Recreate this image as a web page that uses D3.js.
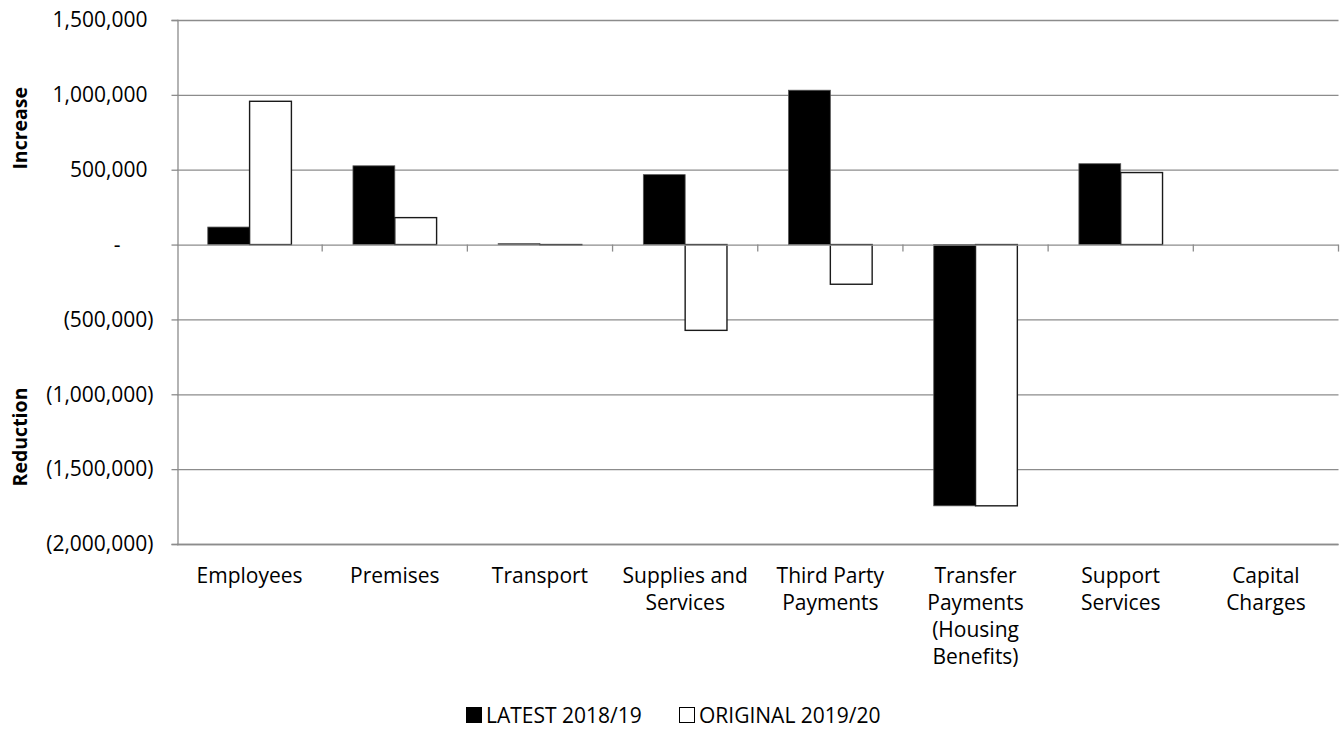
<!DOCTYPE html>
<html>
<head>
<meta charset="utf-8">
<script src="https://cdn.jsdelivr.net/npm/d3@7/dist/d3.min.js"></script>
<style>
  html, body { margin: 0; padding: 0; background: #fff; }
  svg { display: block; }
  text { font-family: "Open Sans", "Noto Sans", sans-serif; fill: #000; }
</style>
</head>
<body>
<svg id="chart" width="1344" height="731"></svg>
<script>
// ---- data ----
const categories = ["Employees", "Premises", "Transport", "Supplies and Services",
  "Third Party Payments", "Transfer Payments (Housing Benefits)", "Support Services", "Capital Charges"];
const categoryLines = [["Employees"], ["Premises"], ["Transport"], ["Supplies and", "Services"],
  ["Third Party", "Payments"], ["Transfer", "Payments", "(Housing", "Benefits)"], ["Support", "Services"], ["Capital", "Charges"]];
const seriesNames = ["LATEST 2018/19", "ORIGINAL 2019/20"];
const latest2018 = [117000, 526000, 6000, 467000, 1031000, -1745000, 540000, 0];
const original2019 = [957000, 180000, -2000, -573000, -265000, -1745000, 481000, 0];
const yTicks = [1500000, 1000000, 500000, 0, -500000, -1000000, -1500000, -2000000];
const axisTitles = ["Increase", "Reduction"];

// ---- layout ----
const svg = d3.select("#chart");
const plotLeft = 177, plotRight = 1338.5, plotTop = 20, plotBottom = 544;
const gridColor = "#8c8c8c";

const x0 = d3.scaleBand().domain(categories).range([plotLeft, plotRight])
  .paddingInner(0.424).paddingOuter(0.212);
const x1 = d3.scaleBand().domain(seriesNames).range([0, x0.bandwidth()]);
const y = d3.scaleLinear().domain([-2000000, 1500000]).range([plotBottom, plotTop]);

// gridlines
svg.append("g").selectAll("line").data(yTicks.filter(d => d !== 0)).join("line")
  .attr("x1", plotLeft).attr("x2", plotRight)
  .attr("y1", d => y(d) + 0.5).attr("y2", d => y(d) + 0.5)
  .attr("stroke", gridColor).attr("stroke-width", 1.3);

// y axis
const fmt = d3.format(",");
const yAxis = d3.axisLeft(y).tickValues(yTicks).tickSize(6).tickPadding(18)
  .tickFormat(d => d > 0 ? fmt(d) : d < 0 ? "(" + fmt(-d) + ")" : "-");
const yg = svg.append("g").attr("transform", `translate(${plotLeft + 0.5},0)`).call(yAxis);
yg.select(".domain").attr("stroke", gridColor).attr("stroke-width", 1.3);
yg.selectAll(".tick line").attr("stroke", gridColor).attr("stroke-width", 1.3);
yg.selectAll(".tick text")
  .style("font-family", '"Open Sans", sans-serif').style("font-size", "21px").attr("fill", "#000")
  .attr("dx", d => d > 0 ? -6 : d < 0 ? 0 : -33);

// bars
const groups = svg.append("g").selectAll("g").data(categories).join("g")
  .attr("transform", d => `translate(${x0(d)},0)`);
const fills = ["#000", "#fff"];
groups.selectAll("rect").data((d, i) => [latest2018[i], original2019[i]].map((v, k) => ({ v, k })))
  .join("rect")
  .attr("x", d => x1(seriesNames[d.k]))
  .attr("width", x1.bandwidth())
  .attr("y", d => y(Math.max(0, d.v)))
  .attr("height", d => Math.abs(y(d.v) - y(0)))
  .attr("fill", d => fills[d.k])
  .attr("stroke", d => d.k === 0 ? "#555" : "#1a1a1a")
  .attr("stroke-width", d => d.k === 0 ? 0.8 : 1.4);

// zero axis (category axis) with boundary ticks
const xg = svg.append("g");
xg.append("line").attr("x1", plotLeft).attr("x2", plotRight)
  .attr("y1", y(0) + 0.5).attr("y2", y(0) + 0.5)
  .attr("stroke", gridColor).attr("stroke-width", 1.3);
const step = x0.step();
const boundaries = d3.range(1, categories.length + 1);
xg.selectAll("line.b").data(boundaries).join("line").attr("class", "b")
  .attr("x1", i => x0(categories[0]) - x0.paddingOuter() * step + i * step)
  .attr("x2", i => x0(categories[0]) - x0.paddingOuter() * step + i * step)
  .attr("y1", y(0)).attr("y2", y(0) + 7)
  .attr("stroke", gridColor).attr("stroke-width", 1.3);

// bottom border line
svg.append("line").attr("x1", plotLeft).attr("x2", plotRight)
  .attr("y1", y(-2000000) + 0.5).attr("y2", y(-2000000) + 0.5)
  .attr("stroke", gridColor).attr("stroke-width", 1.3);

// category labels
const catG = svg.append("g");
categories.forEach((c, i) => {
  const cx = x0(c) + x0.bandwidth() / 2;
  const t = catG.append("text").attr("text-anchor", "middle")
    .style("font-size", "21px");
  categoryLines[i].forEach((ln, j) => {
    t.append("tspan").attr("x", cx).attr("y", 583 + j * 27).text(ln);
  });
});

// axis titles
svg.append("text").attr("transform", `translate(27,${(y(1500000) + y(0)) / 2 - 4}) rotate(-90)`)
  .attr("text-anchor", "middle").style("font-size", "19.5px").style("font-weight", "bold")
  .text(axisTitles[0]);
svg.append("text").attr("transform", `translate(27,437) rotate(-90)`)
  .attr("text-anchor", "middle").style("font-size", "19.5px").style("font-weight", "bold")
  .text(axisTitles[1]);

// legend
const legend = svg.append("g");
const legX = [466, 679];
seriesNames.forEach((s, i) => {
  legend.append("rect").attr("x", legX[i] + 0.5).attr("y", 707.5).attr("width", 15).attr("height", 15)
    .attr("fill", fills[i]).attr("stroke", "#000").attr("stroke-width", 1);
  legend.append("text").attr("x", legX[i] + 20).attr("y", 723).style("font-size", "21px").text(s);
});
</script>
</body>
</html>
